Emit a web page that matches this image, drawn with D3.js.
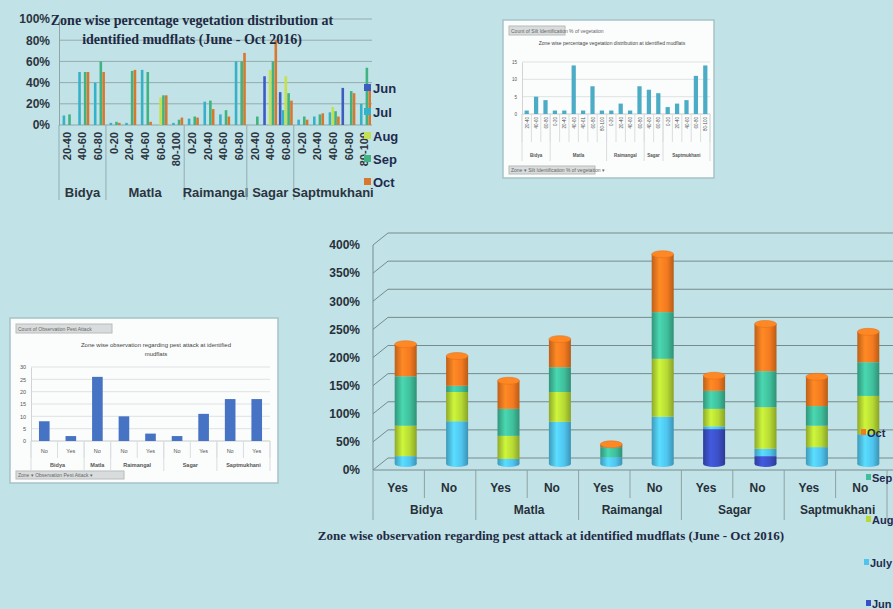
<!DOCTYPE html>
<html>
<head>
<meta charset="utf-8">
<script src="https://cdn.jsdelivr.net/npm/d3@7"></script>
<style>
    body { margin: 0; background: #c1e2e6; }
    svg { display: block; }
    .sans { font-family: "Liberation Sans", Arial, sans-serif; }
    .serif { font-family: "Liberation Serif", "Times New Roman", serif; }
</style>
</head>
<body>
<svg id="chart" width="893" height="609"></svg>
<script>
// ---------- data: vegetation distribution (top left) ----------
var vegMonths = ["Jun", "Jul", "Aug", "Sep", "Oct"];
var vegZones = ["Bidya", "Matla", "Raimangal", "Sagar", "Saptmukhani"];
var vegZoneSize = [3, 5, 4, 3, 5];
var vegClass = ["20-40", "40-60", "60-80",
    "0-20", "20-40", "40-60", "60-80", "80-100",
    "0-20", "20-40", "40-60", "60-80",
    "20-40", "40-60", "60-80",
    "0-20", "20-40", "40-60", "60-80", "80-100"];
var vegJun = [0, 0, 0, 0, 0, 0, 0, 0, 0, 0, 0, 0, 0, 46, 31, 0, 0, 0, 35, 0];
var vegJul = [9, 50, 40, 2, 2, 52, 0, 2, 6, 22, 10, 60, 0, 0, 14, 5, 8, 12, 0, 20];
var vegAug = [0, 0, 0, 0, 0, 0, 26, 0, 0, 0, 0, 0, 0, 52, 46, 0, 0, 17, 0, 0];
var vegSep = [10, 50, 60, 3, 51, 50, 28, 5, 8, 23, 14, 60, 8, 60, 30, 8, 10, 13, 32, 54];
var vegOct = [0, 50, 50, 2, 52, 3, 28, 7, 7, 15, 8, 68, 0, 80, 23, 5, 11, 8, 30, 35];

// ---------- data: silt identification count (top right inset) ----------
var siltZones = ["Bidya", "Matla", "Raimangal", "Sagar", "Saptmukhani"];
var siltZoneSize = [3, 6, 4, 2, 5];
var siltClass = ["20-40", "40-60", "60-80",
    "0-20", "20-40", "40-60", "40-61", "60-80", "80-100",
    "0-20", "20-40", "40-60", "60-80",
    "40-60", "60-80",
    "0-20", "20-40", "40-60", "60-80", "80-100"];
var siltCount = [1, 5, 4, 1, 1, 14, 1, 8, 1, 1, 3, 1, 8, 7, 6, 2, 3, 4, 11, 14];

// ---------- data: pest attack count (bottom left inset) ----------
var obsZones = ["Bidya", "Matla", "Raimangal", "Sagar", "Saptmukhani"];
var obsZoneSize = [2, 1, 2, 2, 2];
var obsAnswer = ["No", "Yes", "No", "No", "Yes", "No", "Yes", "No", "Yes"];
var obsCount = [8, 2, 26, 10, 3, 2, 11, 17, 17];

// ---------- data: pest attack by month, stacked (big chart) ----------
var pestMonths = ["Jun", "July", "Aug", "Sep", "Oct"];
var pestZones = ["Bidya", "Matla", "Raimangal", "Sagar", "Saptmukhani"];
var pestAnswer = ["Yes", "No", "Yes", "No", "Yes", "No", "Yes", "No", "Yes", "No"];
var pestJun = [0, 0, 0, 0, 0, 0, 62, 14, 0, 0];
var pestJuly = [14, 76, 9, 75, 12, 84, 5, 13, 30, 53];
var pestAug = [54, 52, 41, 53, 0, 103, 31, 74, 38, 68];
var pestSep = [88, 11, 48, 44, 18, 83, 32, 64, 35, 60];
var pestOct = [57, 53, 50, 50, 5, 103, 27, 84, 52, 54];

var svg = d3.select("#chart");

// ================= Chart 1: vegetation clustered bars =================
function DrawVegetation() {
    var g = svg.append("g");
    var colors = ["#3c5cc2", "#36b2c8", "#c4e04c", "#3fb482", "#d8782e"];
    var series = [vegJun, vegJul, vegAug, vegSep, vegOct];
    var base = 125;

    var y = d3.scaleLinear().domain([0, 100]).range([base, 19]);
    var x = d3.scaleBand().domain(d3.range(vegClass.length)).range([59, 372]).paddingInner(0.1).paddingOuter(0.05);
    var xm = d3.scaleBand().domain(vegMonths).range([0, x.bandwidth()]);

    // grid
    g.selectAll("line.grid")
        .data([20, 40, 60, 80, 100])
        .enter()
        .append("line")
        .attr("x1", 59).attr("x2", 372)
        .attr("y1", function (d) { return y(d); })
        .attr("y2", function (d) { return y(d); })
        .attr("stroke", "#93adb0")
        .attr("stroke-width", 1);

    // y axis
    var axis = g.append("g")
        .attr("transform", "translate(59,0)")
        .call(d3.axisLeft(y).tickValues([0, 20, 40, 60, 80, 100])
            .tickFormat(function (d) { return d + "%"; })
            .tickSize(0).tickPadding(9));
    axis.select(".domain").attr("stroke", "#8fa6a8");
    axis.selectAll("text")
        .attr("class", "sans")
        .style("font-size", "12px").style("font-weight", "bold").attr("fill", "#2c3440");

    g.append("line")
        .attr("x1", 59).attr("x2", 372).attr("y1", base).attr("y2", base)
        .attr("stroke", "#8fa6a8");

    // bars
    series.forEach(function (vals, m) {
        g.selectAll(null)
            .data(vals)
            .enter()
            .append("rect")
            .attr("x", function (d, i) { return x(i) + xm(vegMonths[m]); })
            .attr("y", function (d) { return y(d); })
            .attr("width", xm.bandwidth() * 0.92)
            .attr("height", function (d) { return base - y(d); })
            .attr("fill", colors[m]);
    });

    // category labels (rotated)
    g.selectAll("text.cls")
        .data(vegClass)
        .enter()
        .append("text")
        .attr("class", "sans")
        .attr("transform", function (d, i) {
            return "translate(" + (x(i) + x.bandwidth() / 2 + 4) + ",132) rotate(-90)";
        })
        .attr("text-anchor", "end")
        .style("font-size", "11px").style("font-weight", "bold")
        .attr("fill", "#2c3440")
        .text(function (d) { return d; });

    // group separators and zone labels
    var start = 0;
    var step = x.step();
    vegZoneSize.forEach(function (n, k) {
        var left = x(start) - (step - x.bandwidth()) / 2;
        var right = x(start + n - 1) + x.bandwidth() + (step - x.bandwidth()) / 2;
        g.append("line")
            .attr("x1", left).attr("x2", left).attr("y1", base).attr("y2", 200)
            .attr("stroke", "#93adb0");
        g.append("text")
            .attr("class", "sans")
            .attr("x", (left + right) / 2).attr("y", 197)
            .attr("text-anchor", "middle")
            .style("font-size", "13px").style("font-weight", "bold")
            .attr("fill", "#2c3440")
            .text(vegZones[k]);
        start += n;
    });

    // title
    g.append("text")
        .attr("class", "serif")
        .attr("x", 192).attr("y", 25)
        .attr("text-anchor", "middle")
        .style("font-size", "14px").style("font-weight", "bold")
        .attr("fill", "#1f2a44")
        .text("Zone wise percentage  vegetation distribution at");
    g.append("text")
        .attr("class", "serif")
        .attr("x", 192).attr("y", 44)
        .attr("text-anchor", "middle")
        .style("font-size", "14px").style("font-weight", "bold")
        .attr("fill", "#1f2a44")
        .text("identified mudflats (June - Oct 2016)");

    // legend
    var legY = [88, 112, 136, 159, 182];
    vegMonths.forEach(function (m, i) {
        g.append("rect")
            .attr("x", 364).attr("y", legY[i] - 4).attr("width", 7).attr("height", 7)
            .attr("fill", colors[i]);
        g.append("text")
            .attr("class", "sans")
            .attr("x", 373).attr("y", legY[i] + 5)
            .style("font-size", "13px").style("font-weight", "bold")
            .attr("fill", "#1f2a50")
            .text(m);
    });
}

// ================= inset helper (Excel style pivot chart) =================
function DrawInsetFrame(x0, y0, w, h, topLabel, bottomLabel, bottomWidth, topWidth) {
    var g = svg.append("g");
    g.append("rect")
        .attr("x", x0).attr("y", y0).attr("width", w).attr("height", h)
        .attr("fill", "#fbfcfc").attr("stroke", "#a6c3c7").attr("stroke-width", 1.5);
    g.append("rect")
        .attr("x", x0 + 6).attr("y", y0 + 6).attr("width", topWidth).attr("height", 9)
        .attr("fill", "#d9dcdc").attr("stroke", "#b9bcbc");
    g.append("text")
        .attr("class", "sans")
        .attr("x", x0 + 8).attr("y", y0 + 12.5)
        .style("font-size", "5px").attr("fill", "#666")
        .text(topLabel);
    g.append("rect")
        .attr("x", x0 + 6).attr("y", y0 + h - 12).attr("width", bottomWidth).attr("height", 8)
        .attr("fill", "#d9dcdc").attr("stroke", "#b9bcbc");
    g.append("text")
        .attr("class", "sans")
        .attr("x", x0 + 8).attr("y", y0 + h - 6)
        .style("font-size", "5px").attr("fill", "#666")
        .text(bottomLabel);
    return g;
}

function DrawInsetBars(g, opt) {
    var y = d3.scaleLinear().domain([0, opt.max]).range([opt.base, opt.top]);
    var x = d3.scaleBand().domain(d3.range(opt.values.length)).range([opt.left, opt.right]).paddingInner(opt.pad).paddingOuter(opt.pad / 2);

    g.selectAll(null)
        .data(d3.range(opt.step, opt.max + 1, opt.step))
        .enter()
        .append("line")
        .attr("x1", opt.left).attr("x2", opt.right)
        .attr("y1", function (d) { return y(d); })
        .attr("y2", function (d) { return y(d); })
        .attr("stroke", "#dfe3e3");

    var axis = g.append("g")
        .attr("transform", "translate(" + opt.left + ",0)")
        .call(d3.axisLeft(y).tickValues(d3.range(0, opt.max + 1, opt.step)).tickSize(0).tickPadding(5));
    axis.select(".domain").attr("stroke", "#d0d4d4");
    axis.selectAll("text")
        .attr("class", "sans")
        .style("font-size", opt.font + "px").attr("fill", "#555");

    g.append("line")
        .attr("x1", opt.left).attr("x2", opt.right).attr("y1", opt.base).attr("y2", opt.base)
        .attr("stroke", "#c8cccc");

    g.selectAll(null)
        .data(opt.values)
        .enter()
        .append("rect")
        .attr("x", function (d, i) { return x(i); })
        .attr("y", function (d) { return y(d); })
        .attr("width", x.bandwidth())
        .attr("height", function (d) { return opt.base - y(d); })
        .attr("fill", opt.color);

    // category labels
    g.selectAll(null)
        .data(opt.labels)
        .enter()
        .append("text")
        .attr("class", "sans")
        .attr("transform", function (d, i) {
            var cx = x(i) + x.bandwidth() / 2;
            if (opt.rotate) return "translate(" + (cx + 2) + "," + (opt.base + 3) + ") rotate(-90)";
            return "translate(" + cx + "," + (opt.base + 12) + ")";
        })
        .attr("text-anchor", opt.rotate ? "end" : "middle")
        .style("font-size", opt.font + "px").attr("fill", "#555")
        .text(function (d) { return d; });

    // separators and zones
    var start = 0;
    var step = x.step();
    var half = (step - x.bandwidth()) / 2;
    for (var i = 0; i <= opt.values.length; i++) {
        var xx = (i < opt.values.length ? x(i) : x(i - 1) + x.bandwidth() + step - x.bandwidth()) - half;
        g.append("line")
            .attr("x1", xx).attr("x2", xx).attr("y1", opt.base).attr("y2", opt.sepY)
            .attr("stroke", "#dadede");
    }
    opt.sizes.forEach(function (n, k) {
        var left = x(start) - half;
        var right = x(start + n - 1) + x.bandwidth() + half;
        g.append("line")
            .attr("x1", left).attr("x2", left).attr("y1", opt.base).attr("y2", opt.zoneY + 4)
            .attr("stroke", "#dadede");
        g.append("text")
            .attr("class", "sans")
            .attr("x", (left + right) / 2).attr("y", opt.zoneY)
            .attr("text-anchor", "middle")
            .style("font-size", opt.font + "px").style("font-weight", "bold").attr("fill", "#555")
            .text(opt.zones[k]);
        start += n;
    });
    var last = x(opt.values.length - 1) + x.bandwidth() + half;
    g.append("line")
        .attr("x1", last).attr("x2", last).attr("y1", opt.base).attr("y2", opt.zoneY + 4)
        .attr("stroke", "#dadede");
}

// ================= Chart 2: silt identification inset =================
function DrawSilt() {
    var g = DrawInsetFrame(503, 20, 211, 158,
        "Count of Silt Identification  % of vegetation", "Zone  \u25BE  Silt Identification  % of vegetation  \u25BE", 86, 56);
    g.append("text")
        .attr("class", "sans")
        .attr("x", 612).attr("y", 45)
        .attr("text-anchor", "middle")
        .style("font-size", "5px").attr("fill", "#444")
        .text("Zone wise percentage vegetation distribution at identified mudflats");
    DrawInsetBars(g, {
        values: siltCount, labels: siltClass, zones: siltZones, sizes: siltZoneSize,
        max: 15, step: 5, base: 114, top: 62, left: 522, right: 710,
        pad: 0.55, color: "#4bacc6", font: 4.5, rotate: true, sepY: 142, zoneY: 157
    });
}

// ================= Chart 3: pest attack observation inset =================
function DrawObservation() {
    var g = DrawInsetFrame(10, 318, 268, 165,
        "Count of Observation Pest Attack", "Zone  \u25BE  Observation Pest Attack  \u25BE", 108, 96);
    g.append("text")
        .attr("class", "sans")
        .attr("x", 156).attr("y", 347)
        .attr("text-anchor", "middle")
        .style("font-size", "6px").attr("fill", "#444")
        .text("Zone wise observation regarding pest attack at identified");
    g.append("text")
        .attr("class", "sans")
        .attr("x", 156).attr("y", 356)
        .attr("text-anchor", "middle")
        .style("font-size", "6px").attr("fill", "#444")
        .text("mudflats");
    DrawInsetBars(g, {
        values: obsCount, labels: obsAnswer, zones: obsZones, sizes: obsZoneSize,
        max: 30, step: 5, base: 441, top: 367, left: 31, right: 270,
        pad: 0.6, color: "#4673c4", font: 5.5, rotate: false, sepY: 458, zoneY: 467
    });
}

// ================= Chart 4: 3D stacked cylinders =================
function DrawPest() {
    var g = svg.append("g");
    var colors = ["#3b4fc6", "#4fc4ef", "#b6d934", "#40bf9c", "#f47a20"];
    var front = 470, axisX = 373, endX = 887;
    var dx = 15, dy = -12;

    var yF = d3.scaleLinear().domain([0, 400]).range([front, 245]);
    var yB = d3.scaleLinear().domain([0, 400]).range([front - 6, 245 - 6]);
    var x = d3.scaleBand().domain(d3.range(pestAnswer.length)).range([axisX, endX]);
    var ticks = d3.range(0, 401, 50);

    // walls: grid lines on the back wall and the side wall
    g.selectAll(null)
        .data(ticks)
        .enter()
        .append("path")
        .attr("d", function (d) {
            return "M" + axisX + "," + yF(d) + "L" + (axisX + dx) + "," + (yF(d) + dy) + "H893";
        })
        .attr("fill", "none")
        .attr("stroke", "#768b8d")
        .attr("stroke-width", 1);
    g.append("line")
        .attr("x1", axisX).attr("x2", axisX).attr("y1", yF(400)).attr("y2", front)
        .attr("stroke", "#768b8d");
    g.append("line")
        .attr("x1", axisX).attr("x2", 893).attr("y1", front).attr("y2", front)
        .attr("stroke", "#768b8d");

    // y axis labels
    var axis = g.append("g")
        .attr("transform", "translate(" + axisX + ",0)")
        .call(d3.axisLeft(yF).tickValues(ticks)
            .tickFormat(function (d) { return d + "%"; })
            .tickSize(0).tickPadding(13));
    axis.select(".domain").remove();
    axis.selectAll("text")
        .attr("class", "sans")
        .style("font-size", "12px").style("font-weight", "bold").attr("fill", "#27303a");

    // stacked cylinders
    var rows = pestAnswer.map(function (a, i) {
        return { Jun: pestJun[i], July: pestJuly[i], Aug: pestAug[i], Sep: pestSep[i], Oct: pestOct[i] };
    });
    var stack = d3.stack().keys(pestMonths)(rows);

    var defs = svg.append("defs");
    pestMonths.forEach(function (m, k) {
        var c = d3.color(colors[k]);
        var grad = defs.append("linearGradient").attr("id", "cyl" + k);
        grad.append("stop").attr("offset", "0%").attr("stop-color", c.darker(0.7));
        grad.append("stop").attr("offset", "35%").attr("stop-color", c.brighter(0.35));
        grad.append("stop").attr("offset", "70%").attr("stop-color", c);
        grad.append("stop").attr("offset", "100%").attr("stop-color", c.darker(0.8));
    });

    var bw = 22;
    var cx = function (i) { return x(i) + x.bandwidth() / 2 + 7; };

    // base ellipse
    g.selectAll(null)
        .data(rows)
        .enter()
        .append("ellipse")
        .attr("cx", function (d, i) { return cx(i); })
        .attr("cy", yB(0))
        .attr("rx", bw / 2).attr("ry", 3)
        .attr("fill", function (d, i) {
            var k = pestMonths.findIndex(function (m) { return d[m] > 0; });
            return "url(#cyl" + k + ")";
        });

    stack.forEach(function (layer, k) {
        g.selectAll(null)
            .data(layer)
            .enter()
            .append("rect")
            .attr("x", function (d, i) { return cx(i) - bw / 2; })
            .attr("y", function (d) { return yB(d[1]); })
            .attr("width", bw)
            .attr("height", function (d) { return yB(d[0]) - yB(d[1]); })
            .attr("fill", "url(#cyl" + k + ")");
    });

    // top caps
    var top = stack[stack.length - 1];
    g.selectAll(null)
        .data(top)
        .enter()
        .append("ellipse")
        .attr("cx", function (d, i) { return cx(i); })
        .attr("cy", function (d) { return yB(d[1]); })
        .attr("rx", bw / 2).attr("ry", 3.5)
        .attr("fill", d3.color(colors[4]).brighter(0.3))
        .attr("stroke", d3.color(colors[4]).darker(0.3))
        .attr("stroke-width", 0.5);

    // category axis
    g.selectAll(null)
        .data(pestAnswer)
        .enter()
        .append("text")
        .attr("class", "sans")
        .attr("x", function (d, i) { return x(i) + x.bandwidth() / 2 - 1; })
        .attr("y", 492)
        .attr("text-anchor", "middle")
        .style("font-size", "12px").style("font-weight", "bold").attr("fill", "#27303a")
        .text(function (d) { return d; });
    d3.range(pestAnswer.length + 1).forEach(function (i) {
        var xx = axisX + i * x.step();
        g.append("line")
            .attr("x1", xx).attr("x2", xx).attr("y1", front).attr("y2", i % 2 == 0 ? 520 : 498)
            .attr("stroke", "#8ea2a4");
    });
    pestZones.forEach(function (z, k) {
        g.append("text")
            .attr("class", "sans")
            .attr("x", x(k * 2 + 1) + 2).attr("y", 514)
            .attr("text-anchor", "middle")
            .style("font-size", "12px").style("font-weight", "bold").attr("fill", "#27303a")
            .text(z);
    });

    // title
    g.append("text")
        .attr("class", "serif")
        .attr("x", 551).attr("y", 540)
        .attr("text-anchor", "middle")
        .style("font-size", "13px").style("font-weight", "bold").attr("fill", "#1f2a44")
        .text("Zone wise observation regarding  pest attack at identified mudflats (June - Oct 2016)");

    // legend (reverse order)
    var legY = [604, 563, 520, 478, 433];
    var legX = [866, 864, 866, 866, 861];
    pestMonths.forEach(function (m, k) {
        g.append("rect")
            .attr("x", legX[k]).attr("y", legY[k] - 4).attr("width", 5).attr("height", 6)
            .attr("fill", colors[k]);
        g.append("text")
            .attr("class", "sans")
            .attr("x", legX[k] + 6).attr("y", legY[k] + 4)
            .style("font-size", "11px").style("font-weight", "bold").attr("fill", "#1f2a50")
            .text(m);
    });
}

DrawVegetation();
DrawSilt();
DrawObservation();
DrawPest();
</script>
</body>
</html>
